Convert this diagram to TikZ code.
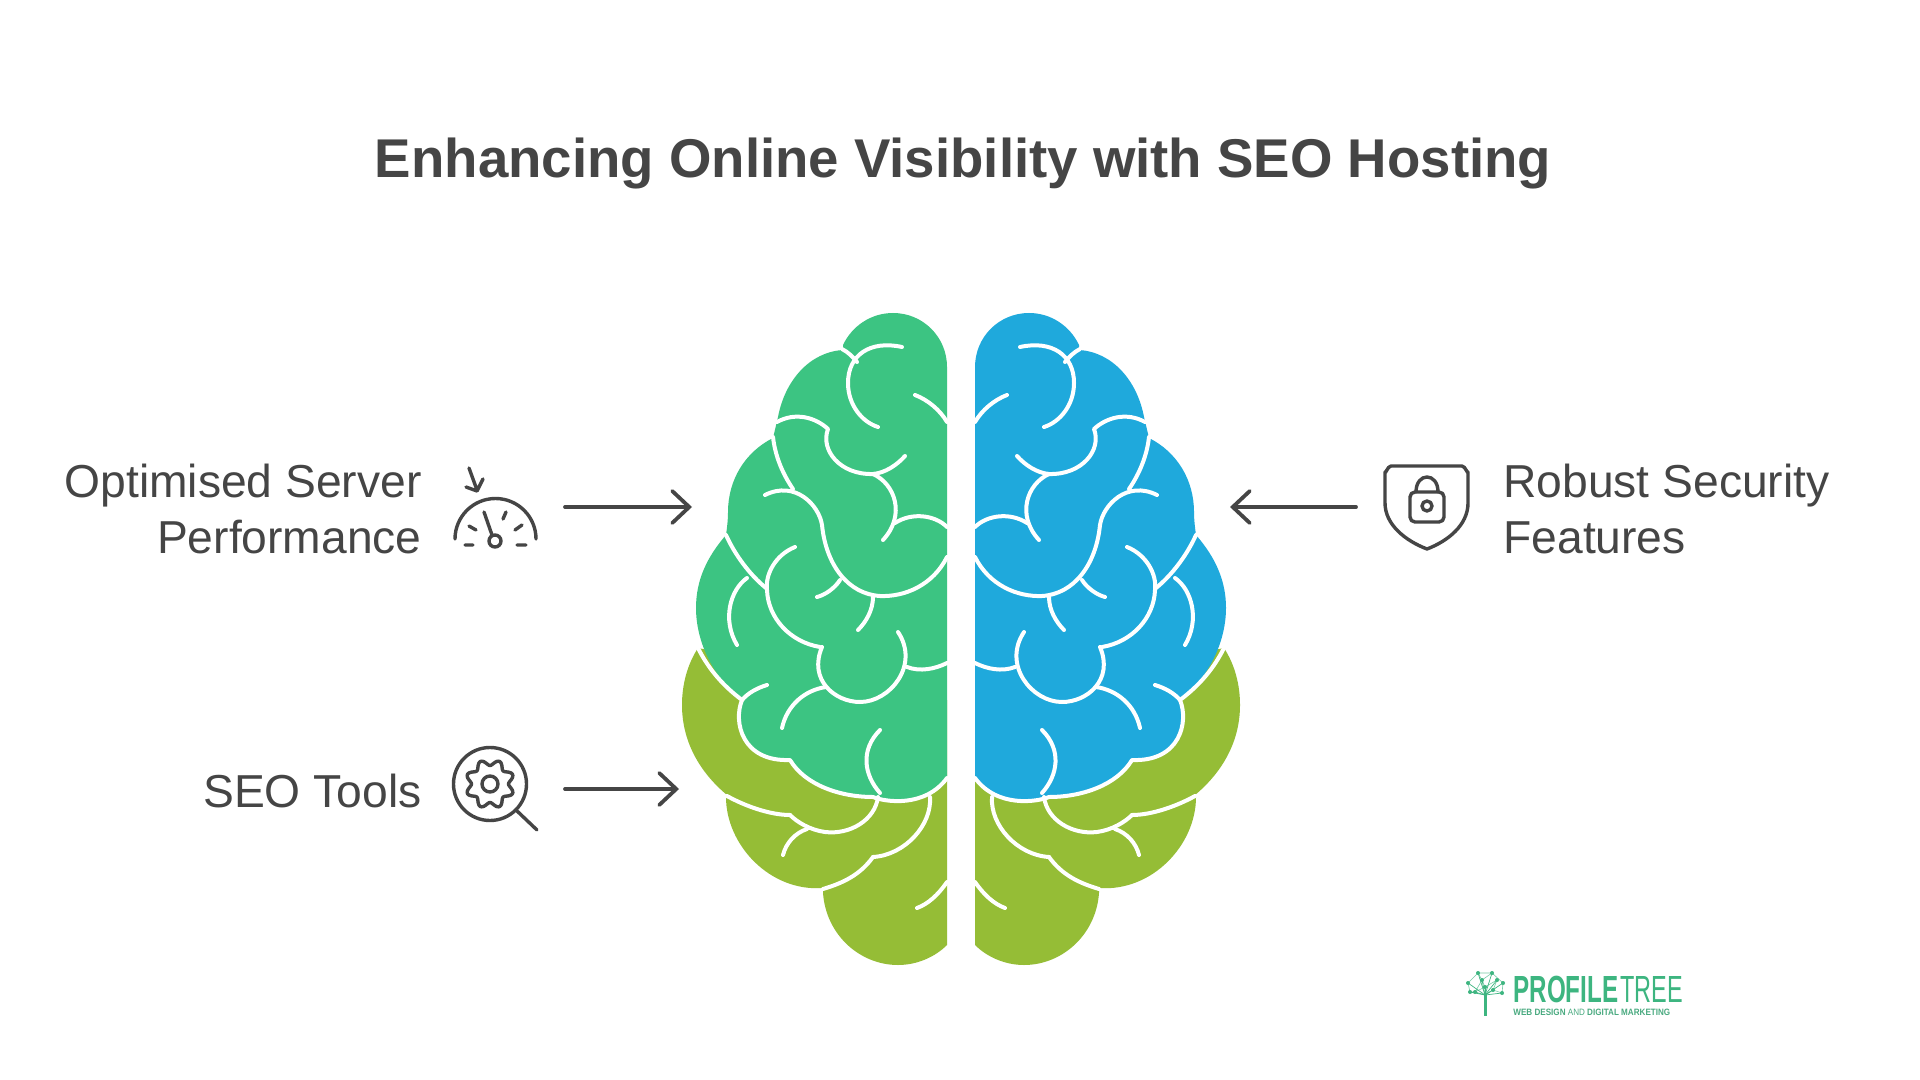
\documentclass[tikz,border=0pt]{standalone}
\usepackage{graphicx}
\usepackage{fontspec}
\setmainfont{Liberation Sans}
\usetikzlibrary{arrows.meta}
\definecolor{inkc}{HTML}{454545}
\definecolor{tealc}{HTML}{3CC482}
\definecolor{olivec}{HTML}{95BD36}
\definecolor{bluec}{HTML}{1FA9DC}
\definecolor{logoc}{HTML}{3DB580}
\tikzset{
 title/.style={font=\fontsize{27.3}{30}\selectfont\bfseries,text=inkc,inner sep=0pt},
 label/.style={font=\fontsize{23.1}{28}\selectfont,text=inkc,inner sep=0pt},
 icon/.style={draw=inkc,line width=1.7pt,line cap=round,line join=round},
 conn/.style={draw=inkc,line width=1.9pt,line cap=round,-{Straight Barb[length=8.5pt,width=16pt,line width=1.9pt,line cap=round]}},
 sulcus/.style={draw=white,line width=2pt,line cap=round,line join=round},
}
\newcommand{\brainhalf}[2]{%
 \fill[#2] (698,648) .. controls (687,665) and (682,685) .. (682,705)
   .. controls (682,745) and (703,775) .. (727,795) -- (726,797)
   .. controls (726,845) and (770,892) .. (823,888) -- (823,893)
   .. controls (826,935) and (860,965) .. (898,965)
   .. controls (917,965) and (935,957) .. (947,945)
   -- (947,700) -- cycle;
 \fill[#1] (947,778) -- (947,367)
   .. controls (947,337) and (923,313) .. (893,313)
   .. controls (871,313) and (852,326) .. (843,345) -- (843,350)
   .. controls (810,352) and (785,380) .. (778,417) -- (773,438)
   .. controls (745,452) and (728,480) .. (728,512)
   .. controls (728,520) and (727,528) .. (726,535)
   .. controls (707,557) and (696,580) .. (696,608)
   .. controls (696,638) and (710,675) .. (742,700)
   .. controls (733,722) and (742,762) .. (790,760)
   .. controls (805,785) and (840,797) .. (873,797)
   .. controls (885,802) and (925,808) .. (947,778) -- cycle;
 % lobe boundaries over the olive part
 \draw[sulcus] (698,648) .. controls (708,668) and (722,685) .. (742,700)
   .. controls (733,722) and (742,762) .. (790,760)
   .. controls (805,785) and (840,797) .. (873,797)
   .. controls (885,802) and (925,808) .. (947,778);
 % folds
 \draw[sulcus] (902,347) .. controls (870,340) and (848,355) .. (848,383) .. controls (848,405) and (862,422) .. (878,427);
 \draw[sulcus] (842,349) .. controls (848,352) and (853,357) .. (857,362);
 \draw[sulcus] (915,395) .. controls (928,400) and (940,410) .. (947,422);
 \draw[sulcus] (777,422) .. controls (795,412) and (815,417) .. (828,429)
   .. controls (820,450) and (840,475) .. (873,474) .. controls (885,473) and (897,465) .. (905,456);
 \draw[sulcus] (873,474) .. controls (895,484) and (906,515) .. (883,540);
 \draw[sulcus] (895,523) .. controls (912,512) and (935,515) .. (947,527);
 \draw[sulcus] (947,557) .. controls (933,585) and (905,597) .. (880,596)
   .. controls (848,594) and (826,565) .. (822,525) .. controls (819,505) and (795,480) .. (765,495);
 \draw[sulcus] (773,437) .. controls (775,455) and (782,473) .. (793,489);
 \draw[sulcus] (726,535) .. controls (735,555) and (750,575) .. (766,588);
 \draw[sulcus] (795,547) .. controls (775,555) and (765,575) .. (767,590) .. controls (768,618) and (790,642) .. (820,647);
 \draw[sulcus] (822,647) .. controls (808,680) and (835,702) .. (860,702) .. controls (890,702) and (920,665) .. (898,632);
 \draw[sulcus] (907,667) .. controls (920,672) and (935,669) .. (947,663);
 \draw[sulcus] (747,578) .. controls (730,590) and (722,620) .. (737,645);
 \draw[sulcus] (817,597) .. controls (825,595) and (835,588) .. (840,580);
 \draw[sulcus] (873,597) .. controls (873,610) and (866,622) .. (858,630);
 \draw[sulcus] (767,685) .. controls (757,688) and (748,693) .. (742,700);
 \draw[sulcus] (826,687) .. controls (805,690) and (787,705) .. (782,728);
 \draw[sulcus] (880,730) .. controls (860,750) and (864,775) .. (880,793);
 \draw[sulcus] (878,797) .. controls (875,820) and (850,835) .. (825,832) .. controls (810,830) and (797,822) .. (790,815);
 \draw[sulcus] (790,815) .. controls (770,815) and (745,806) .. (727,796);
 \draw[sulcus] (807,829) .. controls (795,833) and (786,843) .. (783,855);
 \draw[sulcus] (930,797) .. controls (932,825) and (905,855) .. (873,857);
 \draw[sulcus] (873,857) .. controls (860,875) and (843,883) .. (823,889);
 \draw[sulcus] (947,882) .. controls (938,895) and (928,904) .. (917,908);
}
\begin{document}
\begin{tikzpicture}[x=0.5pt,y=-0.5pt]
\useasboundingbox (0,0) rectangle (1920,1080);
\fill[white] (0,0) rectangle (1920,1080);

\node[title] (ttl) at (963,164) {Enhancing Online Visibility with SEO Hosting};

% brain
\brainhalf{tealc}{olivec}
\begin{scope}[shift={(1922,0)},xscale=-1]
\brainhalf{bluec}{olivec}
\end{scope}

% labels
\node[label,align=right,anchor=east] (lserver) at (422,509) {Optimised Server\\Performance};
\node[label,anchor=east] (lseo) at (422,791) {SEO Tools};
\node[label,align=left,anchor=west] (lsec) at (1503,509) {Robust Security\\Features};

% connectors
\coordinate (a1s) at (565,507); \coordinate (a1e) at (692,507);
\coordinate (a2s) at (565,789); \coordinate (a2e) at (679,789);
\coordinate (a3s) at (1356,507); \coordinate (a3e) at (1230,507);
\draw[conn] (a1s) -- (a1e);
\draw[conn] (a2s) -- (a2e);
\draw[conn] (a3s) -- (a3e);

% gauge icon
\draw[icon] (455,539) arc[start angle=180,end angle=360,radius=40.5];
\draw[icon] (465,545)--(473,545) (517,545)--(526,545) (469,526)--(476,530) (515,530)--(522,525) (503,519)--(506,512) (484,512)--(492,535);
\draw[icon] (495,541) circle[radius=6];
\draw[icon] (469,468)--(477,490) (466,487)--(477,491)--(483,479);

% search-gear icon
\draw[icon] (490,784) circle[radius=36.5];
\draw[icon] (516,810)--(537,830);
\draw[icon] plot[domain=0:360,samples=121,variable=\t,smooth] ({490+(21.5-3*cos(8*\t))*cos(\t)},{784+(21.5-3*cos(8*\t))*sin(\t)}) -- cycle;
\draw[icon] (490,784) circle[radius=8];

% shield icon
\draw[icon] (1391,466) -- (1462,466) to[out=0,in=-90] (1468,472) -- (1468,503)
  .. controls (1468,525) and (1448,541) .. (1427,549)
  .. controls (1406,541) and (1385,525) .. (1385,503) -- (1385,472) to[out=-90,in=180] (1391,466) -- cycle;
\draw[icon,rounded corners=2.5pt] (1410,492) rectangle (1444,522);
\draw[icon] (1416,492) .. controls (1416,472) and (1438,472) .. (1438,492);
\draw[icon] (1427,506) circle[radius=5];

% logo
\node[inner sep=0pt,anchor=base west,text=logoc] (logo1) at (1513,1002) {\scalebox{0.64}[1]{\fontsize{18.9}{20}\selectfont\bfseries PROFILE}};
\node[inner sep=0pt,anchor=base west,text=logoc] (logo2) at (1620,1002) {\scalebox{0.62}[1]{\fontsize{18.9}{20}\selectfont TREE}};
\node[inner sep=0pt,anchor=base west,text=logoc!80!gray] (logo3) at (1513,1015) {\scalebox{0.88}[1]{\fontsize{4.6}{5}\selectfont\bfseries WEB DESIGN {\mdseries AND} DIGITAL MARKETING}};
\fill[logoc] (1483.5,1016) -- (1483.5,993) -- (1486.5,993) -- (1486.5,1016) -- cycle;
\draw[logoc!70!white,line width=0.3pt] (1468,983)--(1478,973)--(1492,973)--(1503,983)--(1502,993)--(1493,990)--(1497,980)--(1485,987)--(1482,980)--(1478,973) (1468,983)--(1470,992)--(1475,992)--(1482,980)--(1492,973) (1485,987)--(1475,992);
\foreach \px/\py in {1468/983,1478/973,1492/973,1503/983,1502/993,1493/990,1475/992,1470/992,1485/987,1482/980,1497/980} {
  \draw[logoc,line width=0.35pt] (1485,995) -- (\px,\py);
  \fill[logoc] (\px,\py) circle[radius=2];
}
\end{tikzpicture}
\end{document}
